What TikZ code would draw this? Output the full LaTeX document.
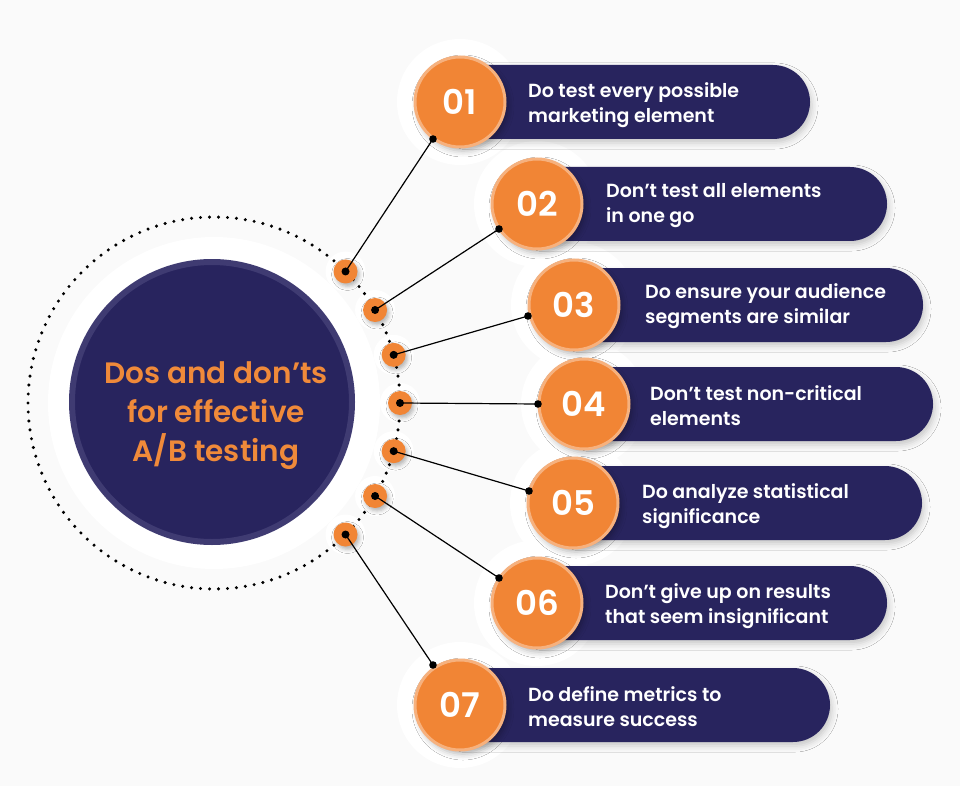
\documentclass[tikz,border=0pt]{standalone}
\usepackage{fontspec}
\setmainfont{Poppins}
\newfontfamily\pmed{Poppins Medium}
\newfontfamily\psemi{Poppins SemiBold}
\usetikzlibrary{shadows.blur}
\definecolor{bg}{HTML}{FAFAFA}
\definecolor{navy}{HTML}{28245E}
\definecolor{navyring}{HTML}{3F3B72}
\definecolor{orng}{HTML}{F18535}
\definecolor{orngring}{HTML}{F6B17E}
\definecolor{titleorng}{HTML}{F08A3A}
\tikzset{
  halo/.style={fill=white},
  numcirc/.style={circle, fill=orng, draw=orngring, line width=3pt, minimum size=90pt, inner sep=0pt,
     text=white, font=\psemi\fontsize{34}{34}\selectfont,
     blur shadow={shadow xshift=3pt, shadow yshift=-4pt, shadow blur radius=6pt, shadow opacity=30}},
  smalldot/.style={circle, fill=orng, minimum size=24pt, inner sep=0pt,
     blur shadow={shadow xshift=2pt, shadow yshift=-3pt, shadow blur radius=4pt, shadow opacity=30}},
  blackdot/.style={fill=black},
  conn/.style={draw=black, line width=1.2pt},
  bartext/.style={anchor=west, align=left, text=white, font=\psemi\fontsize{19}{25}\selectfont, inner sep=0pt},
  barfill/.style={fill=navy, blur shadow={shadow xshift=2pt, shadow yshift=-4pt, shadow blur radius=6pt, shadow opacity=20}},
}
\begin{document}
\begin{tikzpicture}[x=1pt, y=-1pt]
\useasboundingbox (0,0) rectangle (960,786);
\fill[bg] (0,0) rectangle (960,786);
% halos
\fill[halo] (214,403) circle (166);
\foreach \cx/\cy in {460/102, 537/204, 574/305, 584/404, 573/503, 537/603, 460/705}
  \fill[halo] (\cx,\cy) circle (63);
\foreach \a in {45,30,15,0,-15,-30,-45}
  \fill[halo] ({214+186*cos(\a)},{403-186*sin(\a)}) circle (20);
% dotted circle
\foreach \i in {0,...,129}
  \fill[black] ({214+186*cos(\i*2.76923)},{403-186*sin(\i*2.76923)}) circle (1.7);
% central circle
\node[circle, fill=navy, draw=navyring, line width=6pt, minimum size=280pt, inner sep=0pt] (hub) at (212,402) {};
\node[align=center, text=titleorng, font=\psemi\fontsize{29.5}{39}\selectfont] (title) at (216,416)
  {Dos and don’ts\\for effective\\A/B testing};
% bars
\foreach \cx/\cy/\r in {460/102/810, 537/204/887, 574/305/923, 584/404/933, 573/503/922, 537/603/887, 460/705/830}
  \path[barfill] (\cx,\cy-37) -- (\r-37,\cy-37) arc[start angle=-90, end angle=90, radius=37] -- (\cx,\cy+37) -- cycle;
% number circles
\node[numcirc] (n1) at (460,102) {01};
\node[numcirc] (n2) at (537,204) {02};
\node[numcirc] (n3) at (574,305) {03};
\node[numcirc] (n4) at (584,404) {04};
\node[numcirc] (n5) at (573,503) {05};
\node[numcirc] (n6) at (537,603) {06};
\node[numcirc] (n7) at (460,705) {07};
% texts
\node[bartext] (t1) at (528,105) {Do test every possible\\marketing element};
\node[bartext] (t2) at (606,206) {Don’t test all elements\\in one go};
\node[bartext] (t3) at (645,306) {Do ensure your audience\\segments are similar};
\node[bartext] (t4) at (650,406) {Don’t test non-critical\\elements};
\node[bartext] (t5) at (642,506) {Do analyze statistical\\significance};
\node[bartext] (t6) at (605,606) {Don’t give up on results\\that seem insignificant};
\node[bartext] (t7) at (528,707) {Do define metrics to\\measure success};
% small dots
\foreach \k/\a in {1/45,2/30,3/15,4/0,5/-15,6/-30,7/-45}
  \node[smalldot] (d\k) at ({214+186*cos(\a)},{403-186*sin(\a)}) {};
% endpoints
\coordinate (e1) at (433,139);
\coordinate (e2) at (499,229);
\coordinate (e3) at (528,316);
\coordinate (e4) at (538,404);
\coordinate (e5) at (529,491);
\coordinate (e6) at (499,578);
\coordinate (e7) at (433,665);
\foreach \k in {1,...,7} {
  \draw[conn] (d\k.center) -- (e\k);
  \fill[blackdot] (d\k.center) circle (4);
  \fill[blackdot] (e\k) circle (3.8);
}
\end{tikzpicture}
\end{document}
